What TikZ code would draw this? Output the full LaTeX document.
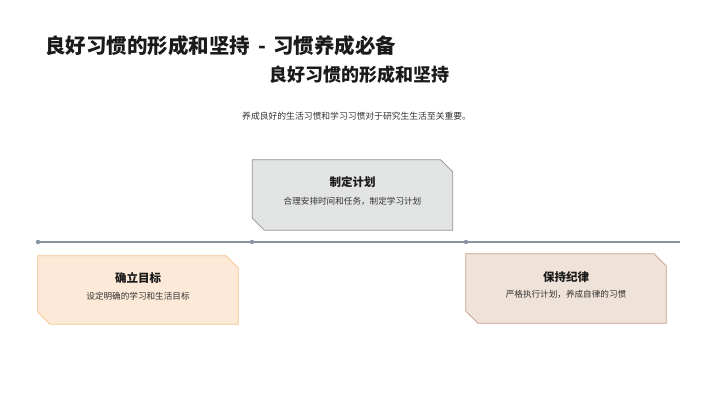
\documentclass[tikz,border=0pt]{standalone}
\usepackage{fontspec}
\setmainfont{Noto Sans CJK SC}
\definecolor{titlec}{HTML}{1A1A1A}
\definecolor{subc}{HTML}{333333}
\definecolor{linec}{HTML}{8A93A3}
\definecolor{grayfill}{HTML}{E1E4E2}
\definecolor{graydraw}{HTML}{8E928F}
\definecolor{orfill}{HTML}{FDE9D7}
\definecolor{ordraw}{HTML}{F4C18D}
\definecolor{brfill}{HTML}{EFE2D9}
\definecolor{brdraw}{HTML}{C79E88}
\tikzset{
  cardbox/.style={rectangle, minimum width=200pt, inner sep=0pt},
  cardedge/.style={line width=0.8pt, line join=miter},
  cardtitle/.style={font=\bfseries\fontsize{11.5}{13}\selectfont, text=titlec, inner sep=0pt},
  cardtext/.style={font=\fontsize{8.6}{10}\selectfont, text=subc, inner sep=0pt},
  dotmark/.style={circle, fill=linec, minimum size=4.5pt, inner sep=0pt},
}
\newcommand{\chamferbox}[4]{% name, fill, draw, cut
  \path[cardedge, fill=#2, draw=#3]
    (#1.north west) -- ([xshift=-#4]#1.north east) -- ([yshift=-#4]#1.north east)
    -- (#1.south east) -- ([xshift=#4]#1.south west) -- ([yshift=#4]#1.south west) -- cycle;
}
\begin{document}
\begin{tikzpicture}[x=1pt,y=-1pt]
\useasboundingbox (0,0) rectangle (720,404);
% titles
\node[anchor=west, inner sep=0pt, text=titlec, font=\bfseries\fontsize{20.5}{22}\selectfont] (t1) at (45,46) {良好习惯的形成和坚持\hspace{8pt}-\hspace{7pt}习惯养成必备};
\node[anchor=west, inner sep=0pt, text=titlec, font=\bfseries\fontsize{18}{20}\selectfont] (t2) at (269,75) {良好习惯的形成和坚持};
\node[anchor=west, inner sep=0pt, text=subc, font=\fontsize{8.8}{10}\selectfont] (t3) at (242,116) {养成良好的生活习惯和学习习惯对于研究生生活至关重要。};
% timeline
\node[dotmark] (d1) at (38,242) {};
\node[dotmark] (d2) at (252,242) {};
\node[dotmark] (d3) at (466,242) {};
\coordinate (d4) at (680,242);
\draw[linec, line width=1.6pt] (d1) -- (d2) -- (d3) -- (d4);
% boxes
\node[cardbox, minimum height=70pt] (b2) at (352.5,195) {};
\node[cardbox, minimum height=68pt] (b1) at (138,290) {};
\node[cardbox, minimum height=69pt] (b3) at (566,288.5) {};
\chamferbox{b2}{grayfill}{graydraw}{12pt}
\chamferbox{b1}{orfill}{ordraw}{12pt}
\chamferbox{b3}{brfill}{brdraw}{12pt}
% box texts
\node[cardtitle] (b2t) at ([yshift=13pt]b2.center) {制定计划};
\node[cardtext] (b2s) at ([yshift=-6pt]b2.center) {合理安排时间和任务，制定学习计划};
\node[cardtitle] (b1t) at ([yshift=12pt]b1.center) {确立目标};
\node[cardtext] (b1s) at ([yshift=-6pt]b1.center) {设定明确的学习和生活目标};
\node[cardtitle] (b3t) at ([yshift=11.5pt]b3.center) {保持纪律};
\node[cardtext] (b3s) at ([yshift=-6pt]b3.center) {严格执行计划，养成自律的习惯};
\end{tikzpicture}
\end{document}
